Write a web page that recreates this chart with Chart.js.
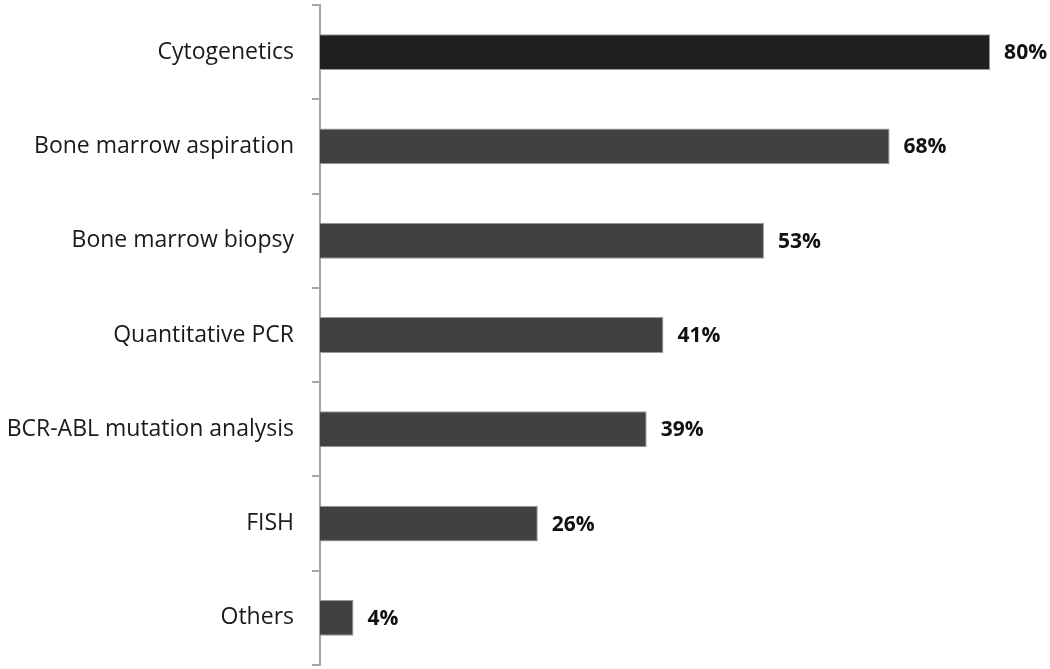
<!DOCTYPE html>
<html>
<head>
<meta charset="utf-8">
<script src="https://cdn.jsdelivr.net/npm/chart.js@4.4.1/dist/chart.umd.min.js"></script>
<style>
  html, body { margin: 0; padding: 0; background: #fff; }
  #wrap { position: relative; width: 1050px; height: 669px; }
</style>
</head>
<body>
<div id="wrap"><canvas id="chart"></canvas></div>
<script>
(function () {
    'use strict';

    var categories = [
        'Cytogenetics',
        'Bone marrow aspiration',
        'Bone marrow biopsy',
        'Quantitative PCR',
        'BCR-ABL mutation analysis',
        'FISH',
        'Others'
    ];
    var percentages = [80, 68, 53, 41, 39, 26, 4];
    var barColors = ['#202020', '#414141', '#414141', '#414141', '#414141', '#414141', '#414141'];

    // draws the bold "NN%" text just past the end of each bar
    var valueLabels = {
        id: 'valueLabels',
        afterDatasetsDraw: function (chart) {
            var ctx = chart.ctx;
            var meta = chart.getDatasetMeta(0);
            ctx.save();
            ctx.font = 'bold 21px "Open Sans", sans-serif';
            ctx.fillStyle = '#111';
            ctx.textAlign = 'left';
            ctx.textBaseline = 'middle';
            meta.data.forEach(function (bar, i) {
                ctx.fillText(percentages[i] + '%', bar.x + 14, bar.y + 1);
            });
            ctx.restore();
        }
    };

    new Chart(document.getElementById('chart'), {
        type: 'bar',
        data: {
            labels: categories,
            datasets: [{
                data: percentages,
                backgroundColor: barColors,
                borderColor: '#9a9a9a',
                borderWidth: 1,
                barPercentage: 0.38,
                categoryPercentage: 1
            }]
        },
        options: {
            indexAxis: 'y',
            responsive: true,
            maintainAspectRatio: false,
            animation: false,
            layout: { padding: { top: 5, bottom: 4, right: 18, left: 0 } },
            plugins: {
                legend: { display: false },
                tooltip: { enabled: false }
            },
            scales: {
                x: {
                    display: false,
                    min: 0,
                    max: 85
                },
                y: {
                    afterFit: function (scale) {
                        scale.width = 320;
                        scale.paddingTop = 0;
                        scale.paddingBottom = 0;
                    },
                    border: { display: true, color: '#a6a6a6', width: 2 },
                    grid: {
                        offset: true,
                        drawOnChartArea: false,
                        drawTicks: true,
                        tickLength: 8,
                        color: '#a6a6a6',
                        lineWidth: 2
                    },
                    ticks: {
                        color: '#1a1a1a',
                        padding: 18,
                        font: { family: '"Open Sans", sans-serif', size: 23 }
                    }
                }
            }
        },
        plugins: [valueLabels]
    });
})();
</script>
</body>
</html>
